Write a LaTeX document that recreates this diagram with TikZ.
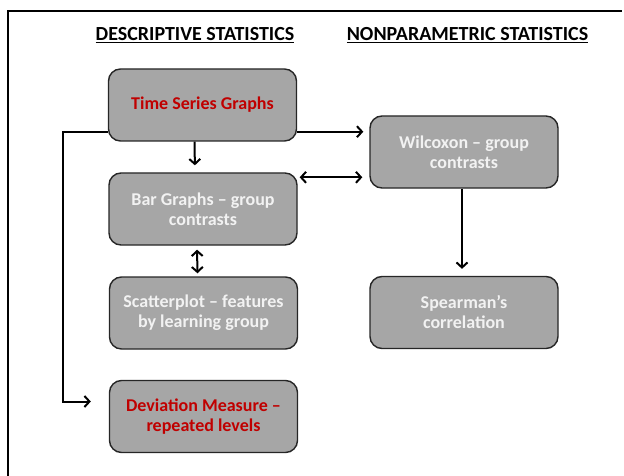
\documentclass[tikz,border=0pt]{standalone}
\usepackage{fontspec}
\setmainfont{Carlito}
\usetikzlibrary{arrows.meta,calc}
\definecolor{boxfill}{HTML}{A6A6A6}
\definecolor{boxline}{HTML}{262626}
\definecolor{redtext}{HTML}{C00000}
\definecolor{lighttext}{HTML}{F2F2F2}
\tikzset{
  stage/.style={draw=boxline, line width=1.4pt, fill=boxfill, rounded corners=12pt,
    minimum width=188pt, minimum height=72pt, align=center, inner sep=2pt,
    font=\bfseries\fontsize{18}{20}\selectfont, text=lighttext},
  hot/.style={text=redtext},
  head/.style={font=\bfseries\fontsize{20}{22}\selectfont},
  link/.style={line width=2pt, -{Straight Barb[length=5pt,width=11pt,line width=2pt]}},
  twoway/.style={line width=2pt, {Straight Barb[length=5pt,width=11pt,line width=2pt]}-{Straight Barb[length=5pt,width=11pt,line width=2pt]}}
}
\begin{document}
\begin{tikzpicture}[x=1pt,y=-1pt]
  \useasboundingbox (0,0) rectangle (624,476);
  % frame along the top and left edges
  \coordinate (frameA) at (8,476);
  \coordinate (frameB) at (8,11);
  \coordinate (frameC) at (622,11);
  \draw[line width=2pt] (frameA) -- (frameB) -- (frameC);

  % column headings
  \node[head] (hdesc) at (195,35) {\underline{DESCRIPTIVE STATISTICS}};
  \node[head] (hnon) at (467.5,35) {\underline{NONPARAMETRIC STATISTICS}};

  % boxes
  \node[stage,hot] (ts) at (202.5,105) {Time Series Graphs};
  \node[stage] (wil) at (464,152) {Wilcoxon -- group\\contrasts};
  \node[stage] (bar) at (203,209) {Bar Graphs -- group\\contrasts};
  \node[stage] (sca) at (203.5,313) {Scatterplot -- features\\by learning group};
  \node[stage] (spe) at (464,312.5) {Spearman's\\correlation};
  \node[stage,hot] (dev) at (203.5,416.5) {Deviation Measure --\\repeated levels};

  % connector end points
  \coordinate (tsout) at ($(ts.south east)+(0,-10)$);
  \coordinate (tsdown) at ($(ts.south)+(-8,0)$);
  \coordinate (barup) at ($(bar.north)+(-8,0)$);
  \coordinate (barside) at ($(bar.north east)+(0,5)$);
  \coordinate (wilside) at (barside -| wil.west);
  \coordinate (barlow) at ($(bar.south)+(-6,0)$);
  \coordinate (scaup) at ($(sca.north)+(-6,0)$);
  \coordinate (wildown) at ($(wil.south)+(-2,0)$);
  \coordinate (speup) at ($(spe.north)+(-2,0)$);
  \coordinate (tsleft) at ($(ts.south west)+(0,-10)$);
  \coordinate (devin) at ($(dev.west)+(-18,-15)$);

  % connectors
  \draw[link, shorten >=6pt] (tsout) -- (tsout -| wil.west);
  \draw[link, shorten >=7pt] (tsdown) -- (barup);
  \draw[twoway, shorten <=2pt, shorten >=7pt] (barside) -- (wilside);
  \draw[twoway, shorten <=4pt, shorten >=3pt] (barlow) -- (scaup);
  \draw[link, shorten >=7pt] (wildown) -- (speup);
  \draw[link] (tsleft) -- ++(-45,0) |- (devin);
\end{tikzpicture}
\end{document}
